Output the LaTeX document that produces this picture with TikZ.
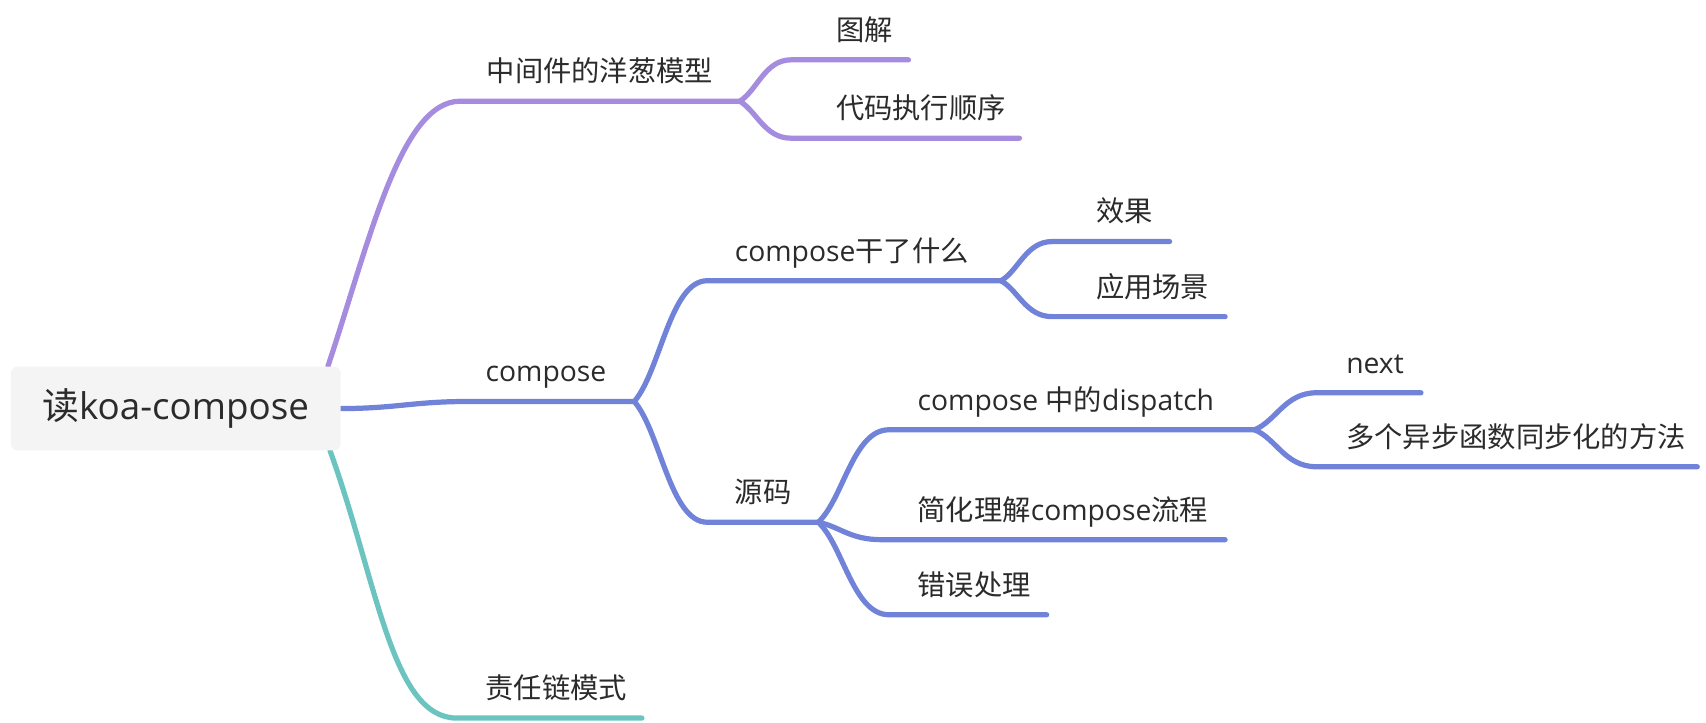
\documentclass[tikz,border=0pt]{standalone}
\usepackage{fontspec}
\setmainfont{Open Sans}
\newfontfamily\cjk{Noto Sans CJK SC}
\usetikzlibrary{backgrounds}
\definecolor{cpurple}{HTML}{A68CDE}
\definecolor{cblue}{HTML}{7083D9}
\definecolor{cteal}{HTML}{6CC4C0}
\definecolor{txt}{HTML}{2B2B2B}
\definecolor{rootbg}{HTML}{F4F4F4}
\begin{document}
\begin{tikzpicture}[x=0.5pt,y=-0.5pt,
  br/.style={line width=2.4pt, line cap=round},
  topic/.style={anchor=base west, inner sep=0pt, text=txt, font=\fontsize{13pt}{15pt}\selectfont},
  rootbox/.style={fill=rootbg, rounded corners=3pt, minimum width=151.5pt, minimum height=38.5pt, inner sep=0pt, text=txt, font=\fontsize{16.9pt}{20pt}\selectfont}]
\useasboundingbox (0,0) rectangle (1568,664);
% root
\node[rootbox] (root) at (161.5,375.5) {{\cjk 读}koa-compose};
\coordinate (rp) at ([xshift=-6pt]root.north east);
\coordinate (rb) at (root.east);
\coordinate (rt) at ([xshift=-5pt]root.south east);
% level 1
\node[topic] (onion) at (447,75) {\cjk 中间件的洋葱模型};
\coordinate (os) at (423,93); \coordinate (oe) at (680,93);
\node[topic] (comp) at (446,351) {compose};
\coordinate (cs) at (430,369); \coordinate (ce) at (583,369);
\node[topic] (chain) at (446,642) {\cjk 责任链模式};
\coordinate (hs) at (420,660); \coordinate (he) at (590,660);
% level 2 purple
\node[topic] (tujie) at (768,37) {\cjk 图解};
\coordinate (ts) at (727,55); \coordinate (te) at (835,55);
\node[topic] (order) at (768,109) {\cjk 代码执行顺序};
\coordinate (rs) at (727,127); \coordinate (re) at (937,127);
% level 2 compose
\node[topic] (what) at (675,240) {compose{\cjk 干了什么}};
\coordinate (ws) at (650,258); \coordinate (we) at (920,258);
\node[topic] (src) at (675,462) {\cjk 源码};
\coordinate (ss) at (650,480); \coordinate (se) at (752,480);
% level 3 what
\node[topic] (effect) at (1007,204) {\cjk 效果};
\coordinate (es) at (967,222); \coordinate (ee) at (1075,222);
\node[topic] (scene) at (1007,273) {\cjk 应用场景};
\coordinate (ys) at (967,291); \coordinate (ye) at (1126,291);
% level 3 src
\node[topic] (disp) at (843,377) {compose {\cjk 中的}dispatch};
\coordinate (ds) at (817,395); \coordinate (de) at (1153,395);
\node[topic] (simp) at (843,478) {{\cjk 简化理解}compose{\cjk 流程}};
\coordinate (ps) at (810,496); \coordinate (pe) at (1126,496);
\node[topic] (err) at (843,547) {\cjk 错误处理};
\coordinate (xs) at (817,565); \coordinate (xe) at (962,565);
% level 4
\node[topic] (next) at (1237,343) {next};
\coordinate (ns) at (1210,361); \coordinate (ne) at (1306,361);
\node[topic] (multi) at (1237,411) {\cjk 多个异步函数同步化的方法};
\coordinate (ms) at (1210,429); \coordinate (me) at (1560,429);
\begin{pgfonlayer}{background}
\draw[br,cpurple] (rp) .. controls +(38,-114) and +(-55,0) .. (os) -- (oe);
\draw[br,cpurple] (oe) .. controls +(16,-10) and +(-24,0) .. (ts) -- (te);
\draw[br,cpurple] (oe) .. controls +(16,10) and +(-24,0) .. (rs) -- (re);
\draw[br,cblue] (rb) .. controls +(50,0) and +(-50,0) .. (cs) -- (ce);
\draw[br,cblue] (ce) .. controls +(24,-28) and +(-34,0) .. (ws) -- (we);
\draw[br,cblue] (ce) .. controls +(24,28) and +(-34,0) .. (ss) -- (se);
\draw[br,cblue] (we) .. controls +(16,-9) and +(-24,0) .. (es) -- (ee);
\draw[br,cblue] (we) .. controls +(16,9) and +(-24,0) .. (ys) -- (ye);
\draw[br,cblue] (se) .. controls +(23,-21) and +(-33,0) .. (ds) -- (de);
\draw[br,cblue] (se) .. controls +(20,4) and +(-29,0) .. (ps) -- (pe);
\draw[br,cblue] (se) .. controls +(23,21) and +(-33,0) .. (xs) -- (xe);
\draw[br,cblue] (de) .. controls +(20,-8) and +(-29,0) .. (ns) -- (ne);
\draw[br,cblue] (de) .. controls +(20,8) and +(-29,0) .. (ms) -- (me);
\draw[br,cteal] (rt) .. controls +(44,122) and +(-60,0) .. (hs) -- (he);
\end{pgfonlayer}
\end{tikzpicture}
\end{document}
